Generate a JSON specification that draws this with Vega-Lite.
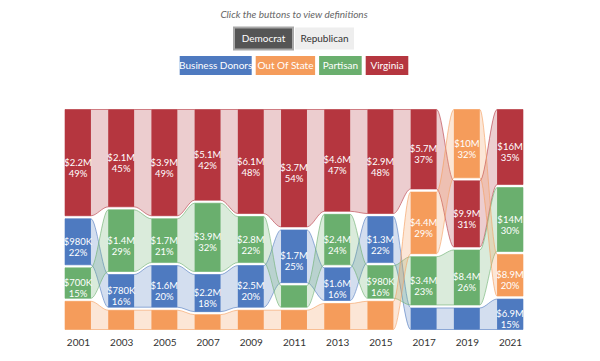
{
  "$schema": "https://vega.github.io/schema/vega-lite/v6.json",
  "padding": {"left": 63, "top": 10, "right": 5, "bottom": 5},
  "config": {"font": "Lato", "view": {"stroke": null}},
  "title": {"text": "Click the buttons to view definitions", "fontSize": 10, "fontStyle": "italic", "fontWeight": "normal", "color": "#666", "anchor": "middle", "offset": 5},
  "datasets": {
    "btn": [
      {"grp": "party", "label": "Democrat", "order": 1},
      {"grp": "party", "label": "Republican", "order": 2},
      {"grp": "cat", "label": "Business Donors", "order": 1},
      {"grp": "cat", "label": "Out Of State", "order": 2},
      {"grp": "cat", "label": "Partisan", "order": 3},
      {"grp": "cat", "label": "Virginia", "order": 4}
    ],
    "d": [
      {"year": 2001, "cat": "Virginia", "pct": 49, "amount": 2200000},
      {"year": 2001, "cat": "Business Donors", "pct": 22, "amount": 980000},
      {"year": 2001, "cat": "Partisan", "pct": 15, "amount": 700000},
      {"year": 2001, "cat": "Out Of State", "pct": 14, "amount": 630000},
      {"year": 2003, "cat": "Virginia", "pct": 45, "amount": 2100000},
      {"year": 2003, "cat": "Partisan", "pct": 29, "amount": 1400000},
      {"year": 2003, "cat": "Business Donors", "pct": 16, "amount": 780000},
      {"year": 2003, "cat": "Out Of State", "pct": 10, "amount": 470000},
      {"year": 2005, "cat": "Virginia", "pct": 49, "amount": 3900000},
      {"year": 2005, "cat": "Partisan", "pct": 21, "amount": 1700000},
      {"year": 2005, "cat": "Business Donors", "pct": 20, "amount": 1600000},
      {"year": 2005, "cat": "Out Of State", "pct": 10, "amount": 800000},
      {"year": 2007, "cat": "Virginia", "pct": 42, "amount": 5100000},
      {"year": 2007, "cat": "Partisan", "pct": 32, "amount": 3900000},
      {"year": 2007, "cat": "Business Donors", "pct": 18, "amount": 2200000},
      {"year": 2007, "cat": "Out Of State", "pct": 8, "amount": 970000},
      {"year": 2009, "cat": "Virginia", "pct": 48, "amount": 6100000},
      {"year": 2009, "cat": "Partisan", "pct": 22, "amount": 2800000},
      {"year": 2009, "cat": "Business Donors", "pct": 20, "amount": 2500000},
      {"year": 2009, "cat": "Out Of State", "pct": 10, "amount": 1300000},
      {"year": 2011, "cat": "Virginia", "pct": 54, "amount": 3700000},
      {"year": 2011, "cat": "Business Donors", "pct": 25, "amount": 1700000},
      {"year": 2011, "cat": "Partisan", "pct": 11, "amount": 750000},
      {"year": 2011, "cat": "Out Of State", "pct": 10, "amount": 690000},
      {"year": 2013, "cat": "Virginia", "pct": 47, "amount": 4600000},
      {"year": 2013, "cat": "Partisan", "pct": 24, "amount": 2400000},
      {"year": 2013, "cat": "Business Donors", "pct": 16, "amount": 1600000},
      {"year": 2013, "cat": "Out Of State", "pct": 13, "amount": 1300000},
      {"year": 2015, "cat": "Virginia", "pct": 48, "amount": 2900000},
      {"year": 2015, "cat": "Business Donors", "pct": 22, "amount": 1300000},
      {"year": 2015, "cat": "Partisan", "pct": 16, "amount": 980000},
      {"year": 2015, "cat": "Out Of State", "pct": 14, "amount": 850000},
      {"year": 2017, "cat": "Virginia", "pct": 37, "amount": 5700000},
      {"year": 2017, "cat": "Out Of State", "pct": 29, "amount": 4400000},
      {"year": 2017, "cat": "Partisan", "pct": 23, "amount": 3400000},
      {"year": 2017, "cat": "Business Donors", "pct": 11, "amount": 1700000},
      {"year": 2019, "cat": "Out Of State", "pct": 32, "amount": 10000000},
      {"year": 2019, "cat": "Virginia", "pct": 31, "amount": 9900000},
      {"year": 2019, "cat": "Partisan", "pct": 26, "amount": 8400000},
      {"year": 2019, "cat": "Business Donors", "pct": 11, "amount": 3500000},
      {"year": 2021, "cat": "Virginia", "pct": 35, "amount": 16000000},
      {"year": 2021, "cat": "Partisan", "pct": 30, "amount": 14000000},
      {"year": 2021, "cat": "Out Of State", "pct": 20, "amount": 8900000},
      {"year": 2021, "cat": "Business Donors", "pct": 15, "amount": 6900000}
    ]
  },
  "resolve": {"scale": {"x": "independent", "y": "independent", "color": "independent", "fill": "independent", "stroke": "independent"}},
  "spacing": 28,
  "vconcat": [
    {
      "width": 458,
      "height": 54,
      "data": {"name": "btn"},
      "transform": [
        {"calculate": "datum.grp == 'party' ? 61 : length(datum.label) * 4.2 + 13", "as": "w"},
        {"calculate": "datum.grp == 'party' ? 2 : 4", "as": "gap"},
        {"stack": "w", "groupby": ["grp"], "sort": [{"field": "order", "order": "ascending"}], "as": ["s0", "s1"]},
        {"joinaggregate": [{"op": "sum", "field": "w", "as": "tot"}], "groupby": ["grp"]},
        {"calculate": "datum.s0 - (datum.tot - datum.gap) / 2", "as": "xs"},
        {"calculate": "datum.s1 - datum.gap - (datum.tot - datum.gap) / 2", "as": "xe"},
        {"calculate": "(datum.xs + datum.xe) / 2", "as": "xm"}
      ],
      "encoding": {
        "y": {"field": "grp", "type": "nominal", "scale": {"type": "point", "domain": ["party", "cat"], "padding": 0.5}, "axis": null},
        "x": {"field": "xs", "type": "quantitative", "scale": {"domain": [-229, 229], "nice": false, "zero": false}, "axis": null}
      },
      "layer": [
        {
          "transform": [{"filter": "datum.grp == 'party'"}],
          "mark": {"type": "rect", "height": 22},
          "encoding": {
            "x2": {"field": "xe"},
            "fill": {"field": "label", "type": "nominal", "scale": {"domain": ["Democrat", "Republican", "Business Donors", "Out Of State", "Partisan", "Virginia"], "range": ["#555555", "#eeeeee", "#4e7ac0", "#f59c5b", "#6aaf6e", "#b5363f"]}, "legend": null},
            "stroke": {"condition": {"test": "datum.label == 'Democrat'", "value": "#a8a8a8"}, "value": null},
            "strokeWidth": {"value": 2}
          }
        },
        {
          "transform": [{"filter": "datum.grp == 'cat'"}],
          "mark": {"type": "rect", "height": 19},
          "encoding": {
            "x2": {"field": "xe"},
            "fill": {"field": "label", "type": "nominal", "legend": null}
          }
        },
        {
          "mark": {"type": "text", "fontSize": 10, "baseline": "middle"},
          "encoding": {
            "x": {"field": "xm", "type": "quantitative"},
            "text": {"field": "label"},
            "color": {"condition": {"test": "datum.label == 'Republican'", "value": "#333333"}, "value": "white"}
          }
        }
      ]
    },
    {
      "width": 458,
      "height": 223,
      "data": {"name": "d"},
      "transform": [
        {"stack": "pct", "groupby": ["year"], "sort": [{"field": "amount", "order": "ascending"}], "offset": "normalize", "as": ["y0", "y1"]},
        {"calculate": "datum.year - 0.6", "as": "xl"},
        {"calculate": "datum.year + 0.6", "as": "xr"},
        {"calculate": "(datum.y0 + datum.y1) / 2", "as": "ym"},
        {"calculate": "['$' + replace(format(datum.amount, '.2~s'), 'k', 'K'), datum.pct + '%']", "as": "lab"}
      ],
      "layer": [
        {
          "transform": [{"fold": ["xl", "xr"], "as": ["side", "xe"]}],
          "mark": {"type": "area", "interpolate": "monotone", "fillOpacity": 0.25, "strokeWidth": 1, "strokeOpacity": 0.6, "yOffset": 1.5, "y2Offset": -1.5},
          "encoding": {
            "x": {"field": "xe", "type": "quantitative", "scale": {"domain": [2000.4, 2021.6], "nice": false, "zero": false},
              "axis": {"values": [2001, 2003, 2005, 2007, 2009, 2011, 2013, 2015, 2017, 2019, 2021], "format": "d", "title": null, "domain": false, "ticks": false, "grid": false, "labelFontSize": 10, "labelColor": "#333", "labelPadding": 6}},
            "y": {"field": "y1", "type": "quantitative", "stack": null, "scale": {"domain": [0, 1], "nice": false}, "axis": null},
            "y2": {"field": "y0"},
            "color": {"field": "cat", "type": "nominal", "scale": {"domain": ["Business Donors", "Out Of State", "Partisan", "Virginia"], "range": ["#4e7ac0", "#f59c5b", "#6aaf6e", "#b5363f"]}, "legend": null},
            "stroke": {"field": "cat", "type": "nominal", "scale": {"domain": ["Business Donors", "Out Of State", "Partisan", "Virginia"], "range": ["#4e7ac0", "#f59c5b", "#6aaf6e", "#b5363f"]}, "legend": null}
          }
        },
        {
          "mark": {"type": "rect", "yOffset": 1.5, "y2Offset": -1.5},
          "encoding": {
            "x": {"field": "xl", "type": "quantitative"},
            "x2": {"field": "xr"},
            "y": {"field": "y1", "type": "quantitative"},
            "y2": {"field": "y0"},
            "color": {"field": "cat", "type": "nominal", "legend": null}
          }
        },
        {
          "transform": [{"filter": "datum.pct >= 15"}],
          "mark": {"type": "text", "fontSize": 9.5, "color": "white", "lineHeight": 11, "baseline": "middle"},
          "encoding": {
            "x": {"field": "year", "type": "quantitative"},
            "y": {"field": "ym", "type": "quantitative"},
            "text": {"field": "lab"}
          }
        }
      ]
    }
  ]
}
